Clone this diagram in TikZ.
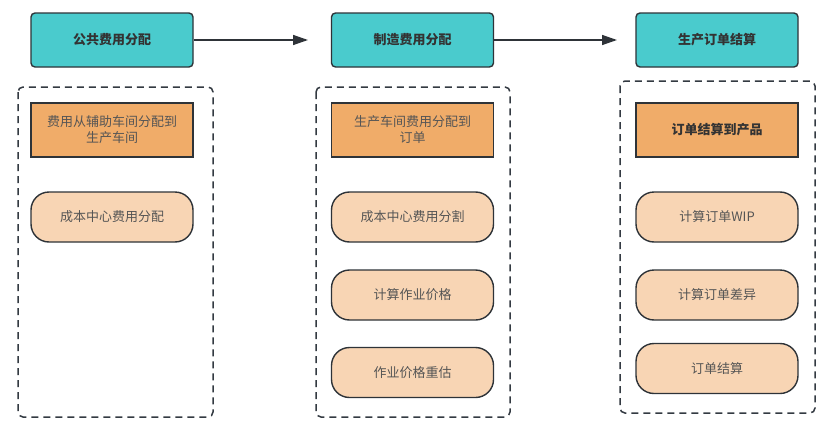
\documentclass[tikz,border=0pt]{standalone}
\usepackage{fontspec}
\setmainfont{Noto Sans CJK SC}
\usetikzlibrary{arrows.meta}
\definecolor{teal1}{HTML}{4ACBCD}
\definecolor{orange1}{HTML}{F0AC69}
\definecolor{peach1}{HTML}{F8D5B4}
\definecolor{edge1}{HTML}{2E3338}
\definecolor{dash1}{HTML}{333A42}
\definecolor{txt1}{HTML}{333333}
\definecolor{txt2}{HTML}{555555}
\tikzset{
  phase/.style={draw=edge1, line width=1.4pt, fill=teal1, rounded corners=4pt,
    minimum width=162pt, minimum height=54pt, inner sep=0pt,
    font=\fontsize{13}{16}\selectfont\bfseries, text=txt1},
  mainstep/.style={draw=edge1, line width=1.4pt, fill=orange1,
    minimum width=162pt, minimum height=54pt, inner sep=0pt, align=center,
    font=\fontsize{13}{16}\selectfont, text=txt2},
  substep/.style={draw=edge1, line width=1.4pt, fill=peach1, rounded corners=18pt,
    minimum width=162pt, minimum height=50pt, inner sep=0pt,
    font=\fontsize{13}{16}\selectfont, text=txt2},
  group/.style={draw=dash1, line width=1.5pt, rounded corners=5pt, dash pattern=on 7pt off 5pt},
  flow/.style={draw=edge1, line width=1.4pt, -{Triangle[length=15pt,width=10pt]}}
}
\begin{document}
\begin{tikzpicture}[x=1pt,y=-1pt]
\useasboundingbox[fill=white] (0,0) rectangle (827,431);
% containers
\draw[group] (18,87) rectangle (213,417);
\draw[group] (316,87) rectangle (510,417);
\draw[group] (620,81) rectangle (815,413);
% top phases
\node[phase] (p1) at (112,40) {公共费用分配};
\node[phase] (p2) at (412.5,40) {制造费用分配};
\node[phase] (p3) at (717,40) {生产订单结算};
\coordinate (e1) at (308,40);
\coordinate (e2) at (617,40);
\draw[flow] (p1.east) -- (e1);
\draw[flow] (p2.east) -- (e2);
% main steps
\node[mainstep] (m1) at (112,130) {费用从辅助车间分配到\\生产车间};
\node[mainstep] (m2) at (412.5,130) {生产车间费用分配到\\订单};
\node[mainstep, font=\fontsize{13}{16}\selectfont\bfseries, text=txt1] (m3) at (717,130) {订单结算到产品};
% sub steps
\node[substep] (s11) at (112,217) {成本中心费用分配};
\node[substep] (s21) at (412.5,217) {成本中心费用分割};
\node[substep] (s22) at (412.5,295) {计算作业价格};
\node[substep] (s23) at (412.5,372.5) {作业价格重估};
\node[substep] (s31) at (717,217) {计算订单WIP};
\node[substep] (s32) at (717,295) {计算订单差异};
\node[substep] (s33) at (717,368.5) {订单结算};
\end{tikzpicture}
\end{document}
